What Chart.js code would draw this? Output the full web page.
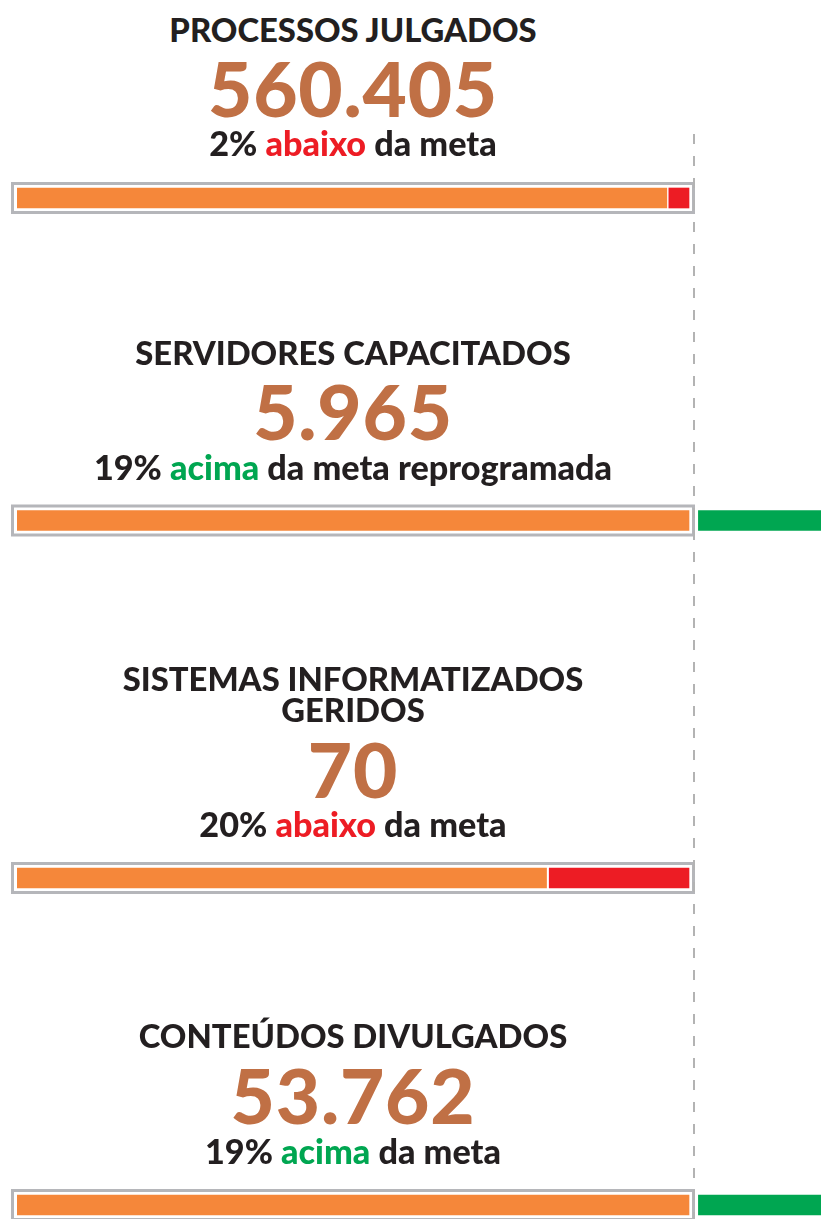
<!DOCTYPE html>
<html lang="pt-BR">
<head>
<meta charset="utf-8">
<script src="https://cdn.jsdelivr.net/npm/chart.js@4.4.1/dist/chart.umd.min.js"></script>
<style>
html,body{margin:0;padding:0;background:#fff;}
body{width:821px;height:1219px;position:relative;overflow:hidden;font-family:Lato,"Open Sans",sans-serif;}
canvas{position:absolute;left:0;z-index:0;}
.txt{position:absolute;left:11px;width:684px;text-align:center;font-weight:900;color:#231f20;white-space:nowrap;z-index:1;}
.num{color:#c07045;}
.neg{color:#ed1c24;}
.pos{color:#00a651;}
</style>
</head>
<body>
<script>
// indicadores
const rotulos=['PROCESSOS JULGADOS','SERVIDORES CAPACITADOS','SISTEMAS INFORMATIZADOS<br>GERIDOS','CONTEÚDOS DIVULGADOS'];
const totais=['560.405','5.965','70','53.762'];
const desvios=['2%','19%','20%','19%'];
const sentidos=['abaixo','acima','abaixo','acima'];
const complementos=['da meta','da meta reprogramada','da meta','da meta'];

const realizado=[96.7,100,78.8,100];
const faltante=[3,0,20.8,0];
const excedente=[0,19,0,19];

const LARANJA='#f5873a';
const VERMELHO='#ed1c24';
const VERDE='#00a651';
const CINZA='#b5b6ba';

// layout (px)
const linhas=[
{top:134,h:226,barra:198,titulo:30,numero:89,sub:144},
{top:360,h:340,barra:520.5,titulo:353,numero:412,sub:468},
{top:700,h:330,barra:878,titulo:679,numero:770,sub:825},
{top:1030,h:189,barra:1205,titulo:1036,numero:1096,sub:1152}
];
const DASH_TOP=134;
const X_MAX=(821-17)/6.72;
const GAP=1.4;

function texto(html,cls,fs,capCentro,lh,ls){
const d=document.createElement('div');
d.className='txt '+cls;
d.style.fontSize=fs+'px';
d.style.lineHeight=(lh||fs)+'px';
if(ls)d.style.letterSpacing=ls+'px';
d.innerHTML=html;
// centro das maiusculas ~0.529em abaixo do topo com line-height 1em
const l=lh||fs;
d.style.top=(capCentro-((l-fs*1.2)/2+fs*0.987-fs*0.358))+'px';
document.body.appendChild(d);
}

const moldura={
id:'moldura',
beforeDatasetsDraw(chart){
const x=chart.scales.x;
const meta=chart.getDatasetMeta(0).data[0];
const ctx=chart.ctx;
const x0=x.getPixelForValue(0)-4.5;
const x1=x.getPixelForValue(100)+4.5;
const yc=meta.y;
ctx.save();
ctx.strokeStyle=CINZA;
ctx.lineWidth=3;
ctx.strokeRect(x0,yc-10-4.5,x1-x0,20+9);
ctx.restore();
},
afterDraw(chart){
const x=chart.scales.x;
const ctx=chart.ctx;
const xp=Math.round(x.getPixelForValue(100))+5;
ctx.save();
ctx.strokeStyle='#b3b3b3';
ctx.lineWidth=2;
ctx.setLineDash([10,12]);
ctx.lineDashOffset=chart.options.dashOffset||0;
ctx.beginPath();
ctx.moveTo(xp,0);
ctx.lineTo(xp,chart.height);
ctx.stroke();
ctx.restore();
}
};

linhas.forEach((L,i)=>{
const c=document.createElement('canvas');
c.width=821;c.height=L.h;
c.style.top=L.top+'px';
document.body.appendChild(c);
const padTop=L.barra-L.top-12;
const datasets=[
{data:[[0,realizado[i]]],backgroundColor:LARANJA},
];
if(faltante[i]>0)datasets.push({data:[[100-faltante[i],100]],backgroundColor:VERMELHO});
if(excedente[i]>0)datasets.push({data:[[100+GAP,100+GAP+excedente[i]]],backgroundColor:VERDE});
datasets.forEach(d=>{d.grouped=false;d.barThickness=20;d.borderWidth=0;});
new Chart(c,{
type:'bar',
data:{labels:[rotulos[i]],datasets},
options:{
indexAxis:'y',
responsive:false,
animation:false,
dashOffset:L.top-DASH_TOP,
layout:{padding:{left:17,right:0,top:padTop,bottom:L.h-padTop-24}},
plugins:{legend:{display:false},tooltip:{enabled:false}},
scales:{
x:{display:false,min:0,max:X_MAX},
y:{display:false}
}
},
plugins:[moldura]
});

texto(rotulos[i],'',32.8,L.titulo,31);
texto(totais[i],'num',76.5,L.numero,null,0.8);
texto(desvios[i]+' <span class="'+(sentidos[i]==='abaixo'?'neg':'pos')+'">'+sentidos[i]+'</span> '+complementos[i],'',34.2,L.sub);
});
</script>
</body>
</html>
